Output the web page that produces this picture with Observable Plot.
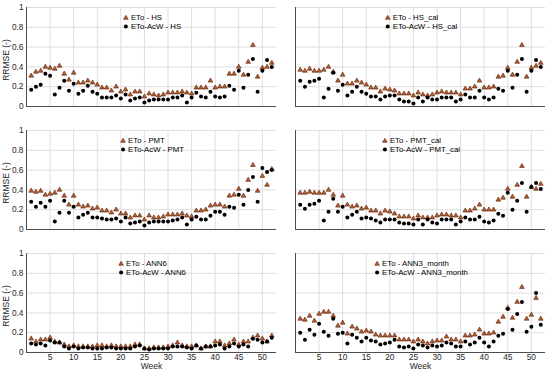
<!DOCTYPE html>
<html><head><meta charset="utf-8">
<script src="https://cdn.jsdelivr.net/npm/d3@7"></script>
<script src="https://cdn.jsdelivr.net/npm/@observablehq/plot@0.6"></script>
<style>
body{margin:0;background:#fff;}
#chart{position:relative;width:550px;height:374px;font-family:"Liberation Sans",Arial,sans-serif;overflow:hidden;}
.panel{position:absolute;}
.legend{position:absolute;transform:translateX(-50%);font-size:7.8px;color:#000;white-space:nowrap;}
.legend .row{display:flex;align-items:center;height:9.5px;}
.legend svg{width:10px;height:9px;display:block;flex:none;}
</style></head>
<body><div id="chart"></div>
<script>
const weeks = d3.range(1, 53);
const xTicks = [5, 10, 15, 20, 25, 30, 35, 40, 45, 50];
const yTicks = [0, 0.2, 0.4, 0.6, 0.8, 1];
const models = ["HS", "HS_cal", "PMT", "PMT_cal", "ANN6", "ANN3_month"];

const hsEto = [0.31,0.35,0.36,0.40,0.39,0.38,0.41,0.33,0.27,0.34,0.24,0.24,0.26,0.24,0.22,0.19,0.19,0.16,0.20,0.15,0.17,0.12,0.15,0.15,0.10,0.13,0.12,0.11,0.12,0.14,0.14,0.14,0.15,0.14,0.13,0.19,0.19,0.19,0.26,0.19,0.20,0.20,0.33,0.33,0.40,0.32,0.45,0.62,0.30,0.39,0.40,0.44];
const hsAcw = [0.17,0.20,0.22,0.33,0.31,0.12,0.19,0.26,0.16,0.23,0.13,0.16,0.21,0.15,0.13,0.09,0.09,0.09,0.11,0.08,0.12,0.06,0.08,0.09,0.04,0.06,0.07,0.07,0.07,0.07,0.09,0.09,0.11,0.04,0.09,0.14,0.10,0.09,0.15,0.10,0.09,0.10,0.21,0.17,0.36,0.19,0.32,0.48,0.15,0.36,0.47,0.40];
const hscalEto = [0.37,0.36,0.38,0.36,0.36,0.37,0.40,0.35,0.26,0.32,0.23,0.23,0.26,0.24,0.22,0.19,0.19,0.15,0.18,0.17,0.16,0.13,0.13,0.13,0.11,0.14,0.12,0.11,0.12,0.14,0.15,0.14,0.14,0.14,0.12,0.18,0.18,0.20,0.26,0.19,0.19,0.20,0.30,0.31,0.39,0.32,0.45,0.62,0.30,0.39,0.41,0.44];
const hscalAcw = [0.26,0.20,0.25,0.26,0.28,0.09,0.18,0.34,0.16,0.22,0.11,0.15,0.20,0.15,0.13,0.10,0.10,0.07,0.10,0.11,0.11,0.07,0.05,0.05,0.03,0.09,0.05,0.09,0.07,0.07,0.09,0.09,0.09,0.05,0.07,0.12,0.09,0.09,0.16,0.09,0.07,0.09,0.18,0.16,0.36,0.19,0.32,0.48,0.15,0.36,0.47,0.40];
const pmtEto = [0.39,0.38,0.39,0.35,0.36,0.37,0.40,0.34,0.25,0.34,0.25,0.23,0.24,0.21,0.22,0.19,0.19,0.17,0.20,0.16,0.16,0.12,0.14,0.14,0.10,0.14,0.12,0.12,0.13,0.15,0.15,0.15,0.16,0.14,0.13,0.19,0.19,0.20,0.24,0.25,0.25,0.23,0.34,0.35,0.41,0.34,0.50,0.65,0.39,0.54,0.45,0.61];
const pmtAcw = [0.28,0.23,0.27,0.23,0.29,0.08,0.17,0.29,0.17,0.23,0.12,0.15,0.17,0.12,0.12,0.11,0.10,0.10,0.11,0.08,0.12,0.06,0.07,0.08,0.04,0.07,0.08,0.08,0.08,0.08,0.09,0.10,0.12,0.05,0.10,0.13,0.10,0.10,0.14,0.18,0.18,0.15,0.23,0.22,0.35,0.25,0.40,0.53,0.28,0.62,0.58,0.60];
const pmtcalEto = [0.37,0.37,0.38,0.37,0.37,0.37,0.40,0.35,0.24,0.34,0.25,0.23,0.24,0.21,0.22,0.19,0.19,0.16,0.19,0.18,0.16,0.13,0.13,0.13,0.11,0.14,0.12,0.12,0.12,0.14,0.15,0.15,0.14,0.14,0.12,0.19,0.19,0.21,0.25,0.20,0.20,0.20,0.30,0.32,0.41,0.33,0.45,0.64,0.33,0.43,0.41,0.46];
const pmtcalAcw = [0.25,0.21,0.25,0.26,0.29,0.09,0.18,0.31,0.18,0.23,0.12,0.15,0.18,0.11,0.12,0.11,0.09,0.07,0.10,0.10,0.10,0.07,0.06,0.06,0.05,0.10,0.05,0.10,0.07,0.06,0.10,0.10,0.10,0.05,0.08,0.12,0.10,0.10,0.13,0.08,0.07,0.09,0.16,0.14,0.37,0.20,0.29,0.47,0.18,0.43,0.47,0.41];
const ann6Eto = [0.14,0.11,0.13,0.13,0.15,0.11,0.10,0.08,0.06,0.07,0.06,0.06,0.06,0.06,0.07,0.07,0.06,0.07,0.06,0.06,0.06,0.06,0.08,0.08,0.04,0.04,0.05,0.05,0.05,0.06,0.07,0.10,0.07,0.06,0.06,0.07,0.04,0.06,0.06,0.11,0.11,0.07,0.09,0.13,0.08,0.11,0.11,0.15,0.17,0.14,0.11,0.17];
const ann6Acw = [0.09,0.08,0.09,0.07,0.12,0.10,0.10,0.06,0.04,0.06,0.04,0.05,0.05,0.04,0.04,0.04,0.05,0.05,0.04,0.04,0.04,0.04,0.06,0.07,0.04,0.03,0.04,0.04,0.04,0.04,0.06,0.06,0.06,0.05,0.04,0.07,0.04,0.06,0.06,0.07,0.08,0.04,0.06,0.09,0.06,0.08,0.06,0.14,0.13,0.10,0.11,0.15];
const ann3Eto = [0.34,0.33,0.37,0.32,0.39,0.41,0.41,0.37,0.27,0.30,0.19,0.26,0.24,0.21,0.22,0.21,0.18,0.17,0.17,0.17,0.17,0.13,0.13,0.13,0.11,0.13,0.11,0.09,0.11,0.12,0.12,0.16,0.13,0.13,0.11,0.17,0.17,0.18,0.23,0.19,0.19,0.20,0.31,0.36,0.45,0.35,0.51,0.66,0.34,0.38,0.55,0.34];
const ann3Acw = [0.20,0.13,0.23,0.18,0.29,0.21,0.17,0.34,0.19,0.20,0.09,0.18,0.15,0.11,0.15,0.12,0.11,0.08,0.09,0.10,0.13,0.06,0.05,0.06,0.04,0.08,0.07,0.05,0.07,0.06,0.07,0.10,0.09,0.06,0.06,0.11,0.08,0.10,0.15,0.10,0.06,0.11,0.17,0.19,0.44,0.23,0.39,0.51,0.21,0.26,0.60,0.28];

const etoSeries = [hsEto, hscalEto, pmtEto, pmtcalEto, ann6Eto, ann3Eto];
const acwSeries = [hsAcw, hscalAcw, pmtAcw, pmtcalAcw, ann6Acw, ann3Acw];

const triFill = "#b0602e", triStroke = "#5e1c06";
const root = document.getElementById("chart");
const rowTops = [0, 123, 246];
const frameH = 99;

models.forEach((name, i) => {
  const col = i % 2, row = Math.floor(i / 2);
  const bottom = row === 2, left = col === 0;
  const data = weeks.map((w, k) => ({week: w, eto: etoSeries[i][k], acw: acwSeries[i][k]}));
  const mt = 7, mb = bottom ? 22 : 4;
  const ml = left ? 26 : 25, mr = left ? 0 : 5;
  const width = left ? 276 : 280;
  const svgLeft = left ? 0 : 270;
  const chart = Plot.plot({
    width, height: mt + frameH + mb,
    marginTop: mt, marginBottom: mb, marginLeft: ml, marginRight: mr,
    style: {fontFamily: "'Liberation Sans', Arial, sans-serif", fontSize: "8.3px", color: "#262626", background: "transparent", overflow: "visible"},
    x: {domain: [0, 53], axis: null},
    y: {domain: [0, 1], axis: null},
    marks: [
      Plot.gridX(xTicks, {stroke: "#dedede", strokeOpacity: 1}),
      Plot.gridY(yTicks, {stroke: "#dedede", strokeOpacity: 1}),
      Plot.ruleX([0], {stroke: "#4d4d4d"}),
      Plot.ruleY([0], {stroke: "#4d4d4d"}),
      bottom ? Plot.axisX(xTicks, {tickSize: 0, tickPadding: 1.5, label: null}) : null,
      bottom ? Plot.text(["Week"], {frameAnchor: "bottom", dy: 16.5, fontSize: 8.5, fill: "#262626"}) : null,
      left ? Plot.axisY(yTicks, {tickSize: 0, tickPadding: 3, tickFormat: d => String(d), label: null}) : null,
      left ? Plot.text(["RRMSE (-)"], {frameAnchor: "left", textAnchor: "middle", dx: -20, dy: 3, rotate: -90, fontSize: 8.5, fill: "#262626"}) : null,
      Plot.dot(data, {x: "week", y: "eto", symbol: "triangle", r: 1.75, fill: triFill, stroke: triStroke, strokeWidth: 0.6}),
      Plot.dot(data, {x: "week", y: "acw", r: 2, fill: "#000", stroke: "none"})
    ]
  });
  const wrap = document.createElement("div");
  wrap.className = "panel";
  wrap.style.left = svgLeft + "px";
  wrap.style.top = rowTops[row] + "px";
  wrap.appendChild(chart);
  root.appendChild(wrap);

  const lg = document.createElement("div");
  lg.className = "legend";
  lg.style.left = (svgLeft + ml + (width - ml - mr) / 2) + "px";
  lg.style.top = (rowTops[row] + mt + 5.5) + "px";
  lg.innerHTML =
    `<div class="row"><svg viewBox="0 0 10 9"><polygon points="5,2.3 7.3,6.3 2.7,6.3" fill="${triFill}" stroke="${triStroke}" stroke-width="0.6"/></svg><span>ETo - ${name}</span></div>` +
    `<div class="row"><svg viewBox="0 0 10 9"><circle cx="5" cy="4.5" r="2" fill="#000"/></svg><span>ETo-AcW - ${name}</span></div>`;
  root.appendChild(lg);
});
</script>
</body></html>
